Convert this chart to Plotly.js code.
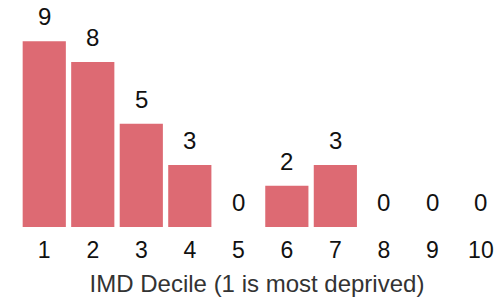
<!DOCTYPE html>
<html><head><meta charset="utf-8">
<script src="https://cdn.plot.ly/plotly-3.0.1.min.js"></script>
<style>html,body{margin:0;padding:0;background:#fff}</style>
</head><body>
<div id="chart" style="width:494px;height:297px"></div>
<script>
const deciles = ["1","2","3","4","5","6","7","8","9","10"];
const counts = [9,8,5,3,0,2,3,0,0,0];

const FONT = "Liberation Sans, Arial, sans-serif";
// category axis: annotation x is the category index
const labels = deciles.map((d, i) => ({
  x: i, y: counts[i], text: String(counts[i]),
  xref: "x", yref: "y", showarrow: false,
  yanchor: "bottom", yshift: 9,
  font: {size: 24, color: "#111", family: FONT}
}));

Plotly.newPlot("chart", [{
  type: "bar",
  x: deciles,
  y: counts,
  marker: {color: "#dd6a73"},
  hoverinfo: "none"
}], {
  width: 494, height: 297,
  margin: {l: 20, r: 0, t: 0, b: 70},
  bargap: 0.11,
  paper_bgcolor: "#fff", plot_bgcolor: "#fff",
  font: {family: FONT, size: 22, color: "#111"},
  annotations: labels,
  xaxis: {
    type: "category",
    range: [-0.5, 9.27],
    showgrid: false, zeroline: false, showline: false, ticks: "",
    tickfont: {size: 23, color: "#111"},
    ticklabelstandoff: 7,
    title: {text: "IMD Decile (1 is most deprived)", font: {size: 24, color: "#333"}, standoff: 13}
  },
  yaxis: {
    range: [0, 11],
    visible: false
  },
  showlegend: false
}, {displayModeBar: false, staticPlot: true});
</script>
</body></html>
